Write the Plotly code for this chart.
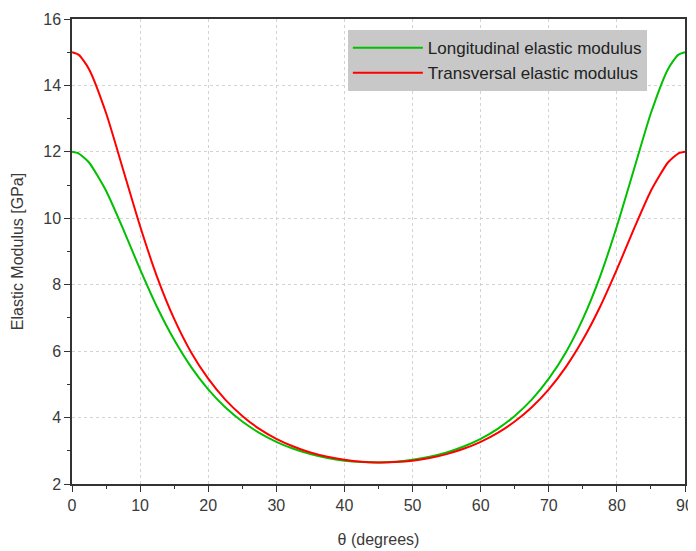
import plotly.graph_objects as go

theta = [0, 1, 2.5, 5, 7.5, 10, 12.5, 15, 17.5, 20, 22.5, 25, 27.5, 30, 32.5, 35, 37.5, 40, 42.5, 45,
         47.5, 50, 52.5, 55, 57.5, 60, 62.5, 65, 67.5, 70, 72.5, 75, 77.5, 80, 82.5, 85, 87.5, 89, 90]
longitudinal = [12.0, 11.95, 11.68, 10.83, 9.68, 8.46, 7.32, 6.34, 5.52, 4.85, 4.31, 3.88, 3.54, 3.27, 3.06, 2.90, 2.78, 2.70, 2.66, 2.65,
                2.67, 2.73, 2.82, 2.95, 3.13, 3.36, 3.66, 4.05, 4.54, 5.17, 5.96, 6.97, 8.23, 9.76, 11.47, 13.17, 14.49, 14.92, 15.0]
transversal = [15.0, 14.92, 14.49, 13.17, 11.47, 9.76, 8.23, 6.97, 5.96, 5.17, 4.54, 4.05, 3.66, 3.36, 3.13, 2.95, 2.82, 2.73, 2.67, 2.65,
               2.66, 2.70, 2.78, 2.90, 3.06, 3.27, 3.54, 3.88, 4.31, 4.85, 5.52, 6.34, 7.32, 8.46, 9.68, 10.83, 11.68, 11.95, 12.0]

FONT = "Liberation Sans, Arial, sans-serif"
TXT = "#3a3a3a"

fig = go.Figure()
fig.add_trace(go.Scatter(x=theta, y=longitudinal, mode="lines", name="Longitudinal elastic modulus",
                         line=dict(color="#00c000", width=2, shape="spline", smoothing=0.6)))
fig.add_trace(go.Scatter(x=theta, y=transversal, mode="lines", name="Transversal elastic modulus",
                         line=dict(color="#ff0000", width=2, shape="spline", smoothing=0.6)))

axis_common = dict(
    showline=True, linecolor="#333333", linewidth=1.5, mirror=True,
    ticks="outside", ticklen=6, tickcolor="#333333", tickwidth=1,
    showgrid=True, gridcolor="#d3d3d3", griddash="dot", gridwidth=1,
    zeroline=False, automargin=False,
    tickfont=dict(family=FONT, size=16, color=TXT),
)

fig.update_xaxes(range=[0, 90], dtick=10, tick0=0,
                 minor=dict(dtick=5, ticklen=3, tickcolor="#333333", ticks="outside", showgrid=False),
                 title=dict(text="θ (degrees)", font=dict(family=FONT, size=16, color=TXT), standoff=21),
                 **axis_common)
fig.update_yaxes(range=[2, 16], dtick=2, tick0=2,
                 minor=dict(dtick=1, ticklen=3, tickcolor="#333333", ticks="outside", showgrid=False),
                 title=dict(text="Elastic Modulus [GPa]", font=dict(family=FONT, size=16, color=TXT), standoff=16),
                 **axis_common)

# the page body adds an 8px offset, so the figure is sized to fit the window
fig.update_layout(
    width=688, height=543,
    margin=dict(l=64, r=11, t=11, b=67),
    paper_bgcolor="white", plot_bgcolor="white",
    showlegend=True,
    legend=dict(x=0.45, y=0.976, xanchor="left", yanchor="top",
                bgcolor="#c8c8c8", borderwidth=0,
                font=dict(family=FONT, size=17, color="#222222"),
                itemwidth=70, tracegroupgap=0),
)

fig.write_html("out.html")
